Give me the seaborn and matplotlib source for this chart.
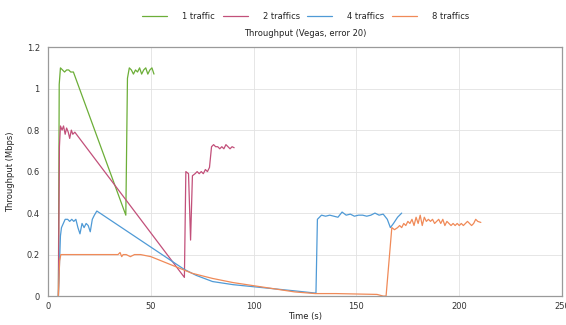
import pandas as pd
import seaborn as sns
import matplotlib
matplotlib.use("Agg")
import matplotlib.pyplot as plt

# Data
t1 = [5.0, 5.4, 6.0, 7.0, 8.0, 9.0, 10.0, 11.0, 12.3, 37.8, 38.6, 39.5, 40.5, 41.5, 42.5,
      43.5, 44.5, 45.5, 46.5, 47.5, 48.5, 49.5, 50.5, 51.5]
v1 = [0.0, 1.02, 1.10, 1.09, 1.08, 1.09, 1.09, 1.08, 1.08, 0.39, 1.05, 1.10, 1.09, 1.07, 1.09,
      1.08, 1.10, 1.07, 1.09, 1.10, 1.07, 1.09, 1.10, 1.07]

t2 = [5.0, 5.5, 6.0, 6.8, 7.5, 8.3, 9.0, 9.8, 10.5, 11.3, 12.0, 13.0, 66.3, 67.0, 68.3, 69.3,
      70.2, 71.5, 72.5, 73.5, 74.5, 75.5, 76.5, 77.5, 78.5, 79.5, 80.5, 81.5, 82.5, 83.5, 84.5,
      85.5, 86.5, 87.5, 88.5, 89.5, 90.5]
v2 = [0.0, 0.72, 0.82, 0.80, 0.82, 0.78, 0.81, 0.79, 0.76, 0.80, 0.78, 0.79, 0.09, 0.60, 0.59, 0.27,
      0.58, 0.59, 0.60, 0.59, 0.60, 0.59, 0.61, 0.60, 0.62, 0.72, 0.73, 0.72, 0.72, 0.71, 0.72,
      0.71, 0.73, 0.72, 0.71, 0.72, 0.715]

t4 = [5.0, 6.0, 6.5, 8.3, 9.5, 10.5, 11.5, 12.5, 13.5, 14.5, 15.5, 16.5, 17.5, 18.5, 19.5, 20.5,
      21.5, 22.5, 23.7, 66.0, 72.0, 80.0, 90.0, 100.0, 110.0, 120.0, 129.5, 130.3, 131.0, 133.0,
      135.0, 137.0, 139.0, 141.0, 143.0, 145.0, 147.0, 149.0, 151.0, 153.0, 155.0, 157.0, 159.0,
      161.0, 163.0, 165.0, 166.5, 168.0, 170.0, 172.0]
v4 = [0.0, 0.29, 0.33, 0.37, 0.37, 0.36, 0.37, 0.36, 0.37, 0.33, 0.30, 0.35, 0.33, 0.35, 0.34, 0.31,
      0.37, 0.39, 0.41, 0.13, 0.10, 0.07, 0.055, 0.045, 0.035, 0.025, 0.015, 0.015, 0.37, 0.39,
      0.385, 0.39, 0.385, 0.38, 0.405, 0.39, 0.395, 0.385, 0.39, 0.39, 0.385, 0.39, 0.40,
      0.39, 0.395, 0.37, 0.33, 0.35, 0.38, 0.40]

t8 = [5.0, 5.6, 6.2, 7.0, 10, 15, 20, 25, 30, 34, 35, 35.8, 36.5, 38, 40, 42, 45, 50, 55, 60, 65,
      70, 80, 90, 100, 110, 120, 130, 140, 150, 160, 163, 164.4, 167.2, 168.5, 170, 171, 172, 173,
      174, 175, 176, 177, 178, 179, 180, 181, 182, 183, 184, 185, 186, 187, 188, 189, 190, 191,
      192, 193, 194, 195, 196, 197, 198, 199, 200, 201, 202, 203, 204, 205, 206, 207, 208, 209,
      210.5]
v8 = [0.0, 0.17, 0.20, 0.20, 0.20, 0.20, 0.20, 0.20, 0.20, 0.20, 0.21, 0.19, 0.20, 0.20, 0.19, 0.20,
      0.20, 0.19, 0.17, 0.15, 0.13, 0.11, 0.085, 0.065, 0.05, 0.035, 0.02, 0.012, 0.012, 0.01,
      0.008, 0.0, 0.0, 0.33, 0.32, 0.33, 0.34, 0.33, 0.35, 0.34, 0.36, 0.35, 0.37, 0.34, 0.38,
      0.35, 0.39, 0.34, 0.38, 0.36, 0.37, 0.36, 0.37, 0.35, 0.36, 0.37, 0.35, 0.37, 0.34, 0.36,
      0.35, 0.34, 0.35, 0.34, 0.35, 0.34, 0.35, 0.34, 0.35, 0.36, 0.35, 0.34, 0.35, 0.37, 0.36,
      0.355]

series_names = ["1 traffic", "2 traffics", "4 traffics", "8 traffics"]
colors = ["#6cae38", "#c2507a", "#4f9ad6", "#f08a58"]
x_ticks = [0, 50, 100, 150, 200, 250]
y_ticks = [0, 0.2, 0.4, 0.6, 0.8, 1, 1.2]
y_tick_labels = ["0", "0.2", "0.4", "0.6", "0.8", "1", "1.2"]

frames = []
for name, t, v in zip(series_names, [t1, t2, t4, t8], [v1, v2, v4, v8]):
    frames.append(pd.DataFrame({"time": t, "throughput": v, "series": name}))
df = pd.concat(frames, ignore_index=True)

sns.set_theme(style="whitegrid", rc={
    "grid.color": "#e2e2e2", "grid.linewidth": 0.6,
    "axes.edgecolor": "#9a9a9a", "axes.linewidth": 0.9,
})
plt.rcParams["font.family"] = ["DejaVu Sans"]

fig, ax = plt.subplots(figsize=(5.66, 3.25), dpi=100)
fig.subplots_adjust(left=0.085, right=0.993, top=0.855, bottom=0.089)

sns.lineplot(data=df, x="time", y="throughput", hue="series", palette=colors,
             estimator=None, sort=False, linewidth=0.9, ax=ax, legend=True)

ax.set_xlim(0, 250)
ax.set_ylim(0, 1.2)
ax.set_xticks(x_ticks)
ax.set_xticklabels([str(x) for x in x_ticks], fontsize=6, color="#333333")
ax.set_yticks(y_ticks)
ax.set_yticklabels(y_tick_labels, fontsize=6, color="#333333")
ax.tick_params(axis="x", length=0, pad=4)
ax.tick_params(axis="y", length=0, pad=6)
ax.set_xlabel("Time (s)", fontsize=6, color="#222222", labelpad=1)
ax.set_ylabel("Throughput (Mbps)", fontsize=6, color="#222222", labelpad=8)
ax.set_title("Throughput (Vegas, error 20)", fontsize=6, color="#222222", pad=8)

handles, labels = ax.get_legend_handles_labels()
ax.legend(handles, labels, loc="center", bbox_to_anchor=(0.54, 0.948),
          bbox_transform=fig.transFigure, ncol=4, frameon=False, fontsize=6,
          handlelength=3.0, handletextpad=1.8, columnspacing=0.9)

fig.savefig("out.png", dpi=100)
